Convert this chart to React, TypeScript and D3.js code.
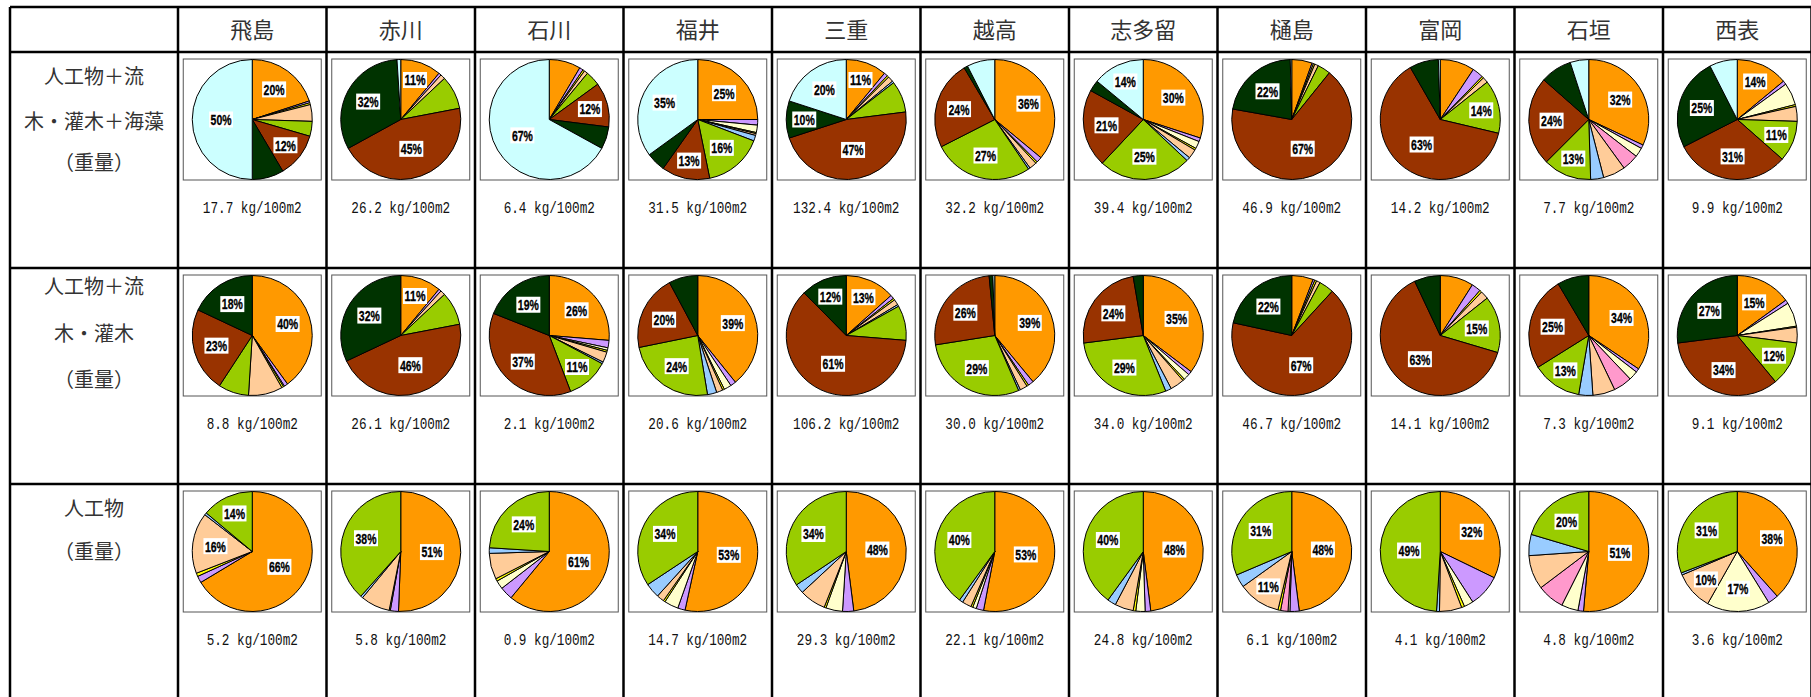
import React from 'react';
import * as d3 from 'd3';

// site names (column headers)
const sites = ['飛島', '赤川', '石川', '福井', '三重', '越高', '志多留', '樋島', '富岡', '石垣', '西表'];

// slice colours, clockwise from 12 o'clock
const sliceColors = [
  '#FF9900', // orange
  '#CC99FF', // lavender
  '#FFFFCC', // light yellow
  '#FF99CC', // pink
  '#FFFF00', // yellow
  '#FFCC99', // peach
  '#99CCFF', // light blue
  '#99CC00', // yellow green
  '#993300', // brown
  '#003300', // dark green
  '#CCFFFF', // light cyan
];

// row labels
const rowLabels = [
  ['人工物＋流', '木・灌木＋海藻', '（重量）'],
  ['人工物＋流', '木・灌木', '（重量）'],
  ['人工物', '（重量）'],
];

// shares (%) per site, one row per table row
const row1Shares = [
  [20, 0.5, 0, 0, 0.5, 4.5, 0, 4, 12, 8.5, 50],
  [11, 0.7, 0, 0, 0, 1.3, 0, 9, 45, 32, 1],
  [8.5, 1, 0, 0, 0.5, 1, 0, 4, 12, 6, 67],
  [25, 1.5, 2, 0, 0.3, 0.5, 1.5, 16, 13, 5.2, 35],
  [11, 1, 0, 0, 0.5, 1.5, 0.5, 8.5, 47, 10, 20],
  [36, 1.5, 0, 0, 0.5, 2, 0.5, 27, 24, 1, 7.5],
  [30, 1, 2, 0, 0.5, 2.5, 1, 25, 21, 3, 14],
  [5.5, 0.4, 0, 0, 0.4, 1, 0, 3.5, 67, 21.8, 0.4],
  [9.3, 3, 0, 0, 0.5, 1.5, 0, 14.4, 63, 7.8, 0.5],
  [32, 1, 2.5, 4.5, 0, 6, 3.5, 13, 24, 8.5, 5],
  [14, 1, 6, 0, 0.5, 4, 0, 11, 31, 25, 7.5],
];

const row2Shares = [
  [40, 1, 0.3, 0, 0.5, 9.2, 0, 8.2, 22.8, 18, 0],
  [11, 0.7, 0, 0, 0, 1.3, 0, 9, 46, 32, 0],
  [26.3, 2, 0.7, 0, 0.5, 2.8, 0.5, 11.4, 36.8, 19, 0],
  [39.2, 1.5, 2, 0, 0.5, 1.7, 2.5, 24.4, 20.4, 7.8, 0],
  [13.4, 1, 0, 0, 0.5, 1.5, 0.5, 9.4, 61.3, 12.4, 0],
  [39, 1.5, 0, 0, 0.5, 2, 0.5, 29, 26, 1, 0.5],
  [35.3, 1, 1.7, 0, 0.5, 3.8, 1.6, 29.1, 24.3, 2.7, 0],
  [5.8, 0.5, 0, 0, 0.5, 1, 0, 4, 66.6, 21.6, 0],
  [9, 2.5, 0, 0, 0.6, 2.2, 0, 15.3, 63.4, 7, 0],
  [34.4, 1, 2.5, 5, 0, 6, 3.8, 13.4, 25.4, 8.5, 0],
  [15, 1, 6.5, 0, 0.3, 4.2, 0, 12, 34, 27, 0],
];

const row3Shares = [
  [66.4, 1.8, 0, 0, 0.9, 16.4, 0.6, 13.9, 0, 0, 0],
  [50.6, 2.2, 0, 0, 0.3, 7.9, 0.6, 38.4, 0, 0, 0],
  [61, 3.5, 2.3, 0, 0.7, 7, 1.5, 24, 0, 0, 0],
  [53.4, 2, 3.8, 0, 0.5, 2, 4, 34.3, 0, 0, 0],
  [48, 3, 4.5, 0, 0.5, 7.1, 2.5, 34.4, 0, 0, 0],
  [53, 2, 1, 0, 0.5, 2.5, 1, 40, 0, 0, 0],
  [48, 1.5, 2.5, 0, 0.7, 5, 2.3, 40, 0, 0, 0],
  [48, 2.5, 0.5, 2, 0.7, 11.4, 3.5, 31.4, 0, 0, 0],
  [32.2, 8.7, 2.5, 0, 0.8, 6, 0.8, 49, 0, 0, 0],
  [51.4, 1.5, 4.5, 7.3, 0, 9.2, 5.7, 20.4, 0, 0, 0],
  [38.4, 2.8, 17, 0, 0, 10.4, 0.6, 30.8, 0, 0, 0],
];

// totals, kg/100m2
const row1Totals = [17.7, 26.2, 6.4, 31.5, 132.4, 32.2, 39.4, 46.9, 14.2, 7.7, 9.9];
const row2Totals = [8.8, 26.1, 2.1, 20.6, 106.2, 30.0, 34.0, 46.7, 14.1, 7.3, 9.1];
const row3Totals = [5.2, 5.8, 0.9, 14.7, 29.3, 22.1, 24.8, 6.1, 4.1, 4.8, 3.6];

const rowShares = [row1Shares, row2Shares, row3Shares];
const rowTotals = [row1Totals, row2Totals, row3Totals];
const labelOffsets = [[25, 70, 111], [19, 66, 112], [25, 68]];

const W = 1811;
const H = 697;
const tableLeft = 10;
const tableTop = 7;
const firstColRight = 178;
const colW = 148.5;
const headerH = 45;
const rowH = 216;
const boxW = 138;
const boxH = 121;
const radius = 60;

const jp = '"Noto Sans CJK JP", "Noto Sans", sans-serif';

const x = d3.scaleBand<string>()
  .domain(sites)
  .range([firstColRight, firstColRight + colW * sites.length])
  .paddingInner(0)
  .paddingOuter(0);

const rowTop = (r: number) => tableTop + headerH + r * rowH;

const pie = d3.pie<number>().sort(null).value(d => d);
const arc = d3.arc<d3.PieArcDatum<number>>().innerRadius(0).outerRadius(radius);

const PieCell = ({ shares, cx, cy }: { shares: number[]; cx: number; cy: number }) => {
  const arcs = pie(shares).map((a, i) => ({ ...a, color: sliceColors[i] })).filter(a => a.data > 0);
  return (
    <g transform={`translate(${cx},${cy})`}>
      {arcs.map((a, i) => (
        <path key={i} d={arc(a) || ''} fill={a.color} stroke="#000" strokeWidth={1} strokeLinejoin="round" />
      ))}
      {arcs.filter(a => Math.round(a.data) >= 10).map((a, i) => {
        const mid = (a.startAngle + a.endAngle) / 2;
        const k = a.data >= 45 ? 0.52 : a.data < 15 ? 0.7 : 0.62;
        const lx = Math.sin(mid) * radius * k;
        const ly = -Math.cos(mid) * radius * k;
        const txt = `${Math.round(a.data)}%`;
        return (
          <g key={`l${i}`} transform={`translate(${lx},${ly})`}>
            <rect x={-12} y={-8} width={24} height={16} fill="#fff" />
            <text
              textAnchor="middle"
              dy="0.36em"
              fontFamily='"Liberation Sans", Arial, sans-serif'
              fontWeight="bold"
              fontSize={15}
              textLength={21}
              lengthAdjust="spacingAndGlyphs"
              fill="#000"
              stroke="#000"
              strokeWidth={0.3}
            >
              {txt}
            </text>
          </g>
        );
      })}
    </g>
  );
};

export default function App() {
  const gridRight = firstColRight + colW * sites.length;
  const hLines = [tableTop, tableTop + headerH, rowTop(1), rowTop(2)];
  const vLines = [tableLeft, firstColRight, ...sites.map(s => (x(s) as number) + colW)];

  return (
    <svg width={W} height={H} style={{ position: 'absolute', left: 0, top: 0, background: '#fff' }}>
      <rect width={W} height={H} fill="#fff" />

      {/* header */}
      {sites.map(s => (
        <text
          key={s}
          x={(x(s) as number) + colW / 2}
          y={tableTop + 23}
          dy="0.36em"
          textAnchor="middle"
          fontFamily={jp}
          fontSize={22}
          fill="#333"
        >
          {s}
        </text>
      ))}

      {/* row labels */}
      {rowLabels.map((lines, r) =>
        lines.map((t, j) => (
          <text
            key={`${r}-${j}`}
            x={(tableLeft + firstColRight) / 2}
            y={rowTop(r) + labelOffsets[r][j]}
            dy="0.36em"
            textAnchor="middle"
            fontFamily={jp}
            fontSize={20}
            fill="#333"
          >
            {t}
          </text>
        ))
      )}

      {/* pies */}
      {rowShares.map((rows, r) =>
        sites.map((s, i) => {
          const left = (x(s) as number) + (colW - boxW) / 2;
          const top = rowTop(r) + 7;
          const label = `${rowTotals[r][i].toFixed(1)} kg/100m2`;
          return (
            <g key={`${r}-${s}`}>
              <rect x={left} y={top} width={boxW} height={boxH} fill="#fff" stroke="#555" strokeWidth={1} />
              <PieCell shares={rows[i]} cx={left + boxW / 2} cy={top + boxH / 2} />
              <text
                x={(x(s) as number) + colW / 2}
                y={rowTop(r) + 155}
                dy="0.36em"
                textAnchor="middle"
                fontFamily='"Liberation Mono", "DejaVu Sans Mono", monospace'
                fontSize={16}
                textLength={label.length * 7.6}
                lengthAdjust="spacingAndGlyphs"
                fill="#111"
              >
                {label}
              </text>
            </g>
          );
        })
      )}

      {/* grid */}
      {hLines.map((y, i) => (
        <line key={`h${i}`} x1={tableLeft} x2={gridRight} y1={y} y2={y} stroke="#000" strokeWidth={2.5} />
      ))}
      {vLines.map((vx, i) => (
        <line key={`v${i}`} x1={vx} x2={vx} y1={tableTop} y2={H + 5} stroke="#000" strokeWidth={2.5} />
      ))}
    </svg>
  );
}
